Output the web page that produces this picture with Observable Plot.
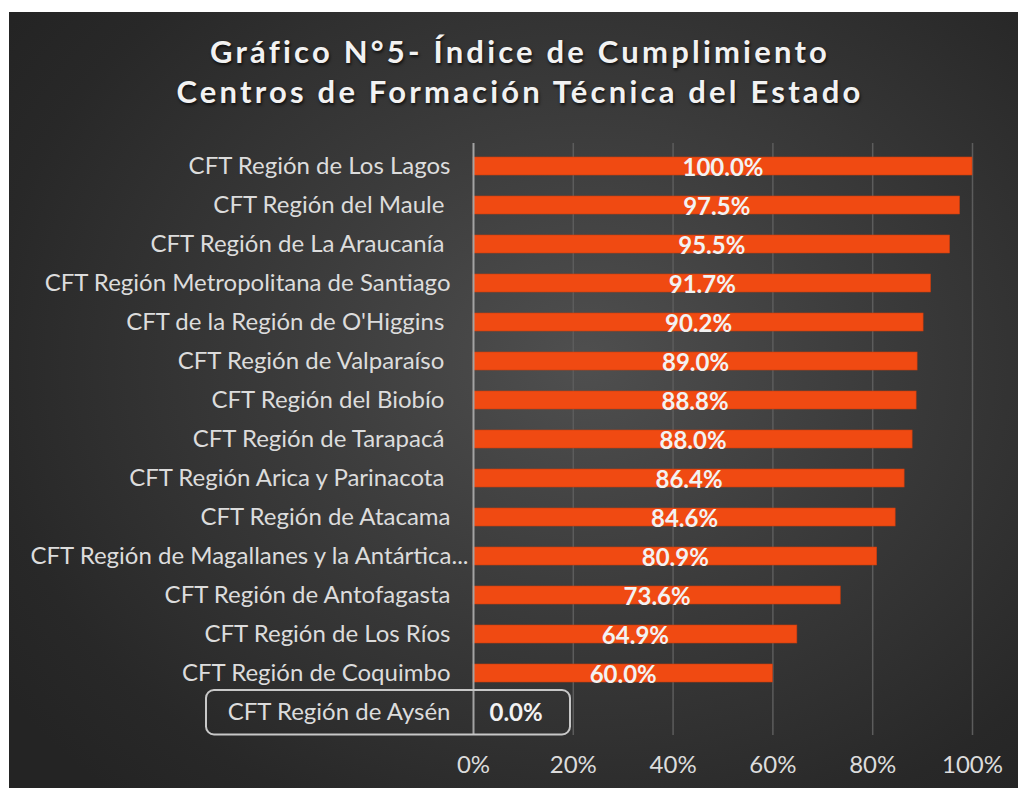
<!DOCTYPE html>
<html>
<head>
<meta charset="utf-8">
<script src="https://cdn.jsdelivr.net/npm/d3@7"></script>
<script src="https://cdn.jsdelivr.net/npm/@observablehq/plot@0.6"></script>
<style>
  html, body { margin: 0; padding: 0; background: #ffffff; width: 1020px; height: 788px; overflow: hidden; }
  #card {
    position: absolute; left: 9px; top: 12px; width: 1009px; height: 776px;
    background: radial-gradient(ellipse 70% 75% at 57% 45%, #4f4f4f 0%, #3c3c3c 40%, #282828 85%, #242424 100%);
  }
  #title {
    position: absolute; left: 0; top: 31px; width: 1040px; text-align: center;
    font-family: Lato, sans-serif; font-weight: bold; font-size: 31px; line-height: 40px;
    letter-spacing: 3.2px; color: #f2f2f2; text-shadow: 1px 2px 3px rgba(0,0,0,0.7);
  }
  #chart { position: absolute; left: 0; top: 130px; }
  #chart svg text { white-space: pre; }
</style>
</head>
<body>
<div id="card"></div>
<div id="title">Gráfico N°5- Índice de Cumplimiento<br>Centros de Formación Técnica del Estado</div>
<div id="chart"></div>
<script>
const categories = [
  "CFT Región de Los Lagos",
  "CFT Región del Maule ",
  "CFT Región de La Araucanía ",
  "CFT Región Metropolitana de Santiago",
  "CFT de la Región de O'Higgins ",
  "CFT Región de Valparaíso ",
  "CFT Región del Biobío ",
  "CFT Región de Tarapacá ",
  "CFT Región Arica y Parinacota ",
  "CFT Región de Atacama",
  "CFT Región de Magallanes y la Antártica...",
  "CFT Región de Antofagasta",
  "CFT Región de Los Ríos",
  "CFT Región de Coquimbo",
  "CFT Región de Aysén"
];
const values = [100.0, 97.5, 95.5, 91.7, 90.2, 89.0, 88.8, 88.0, 86.4, 84.6, 80.9, 73.6, 64.9, 60.0, 0.0];
const xTicks = [0, 20, 40, 60, 80, 100];
const highlighted = "CFT Región de Aysén";
const truncated = "CFT Región de Magallanes y la Antártica...";

const data = categories.map((c, i) => ({c, v: values[i]}));

const chart = Plot.plot({
  width: 1020,
  height: 658,
  marginTop: 13,
  marginBottom: 53,
  marginLeft: 473,
  marginRight: 48,
  style: {background: "transparent", fontFamily: "Lato, sans-serif", fontSize: "24px", color: "#dcdcdc", overflow: "visible"},
  x: {domain: [0, 100]},
  y: {domain: categories, paddingInner: 0.54, paddingOuter: 0.27, label: null},
  marks: [
    Plot.gridX(xTicks.slice(1), {stroke: "#5c5c5c", strokeOpacity: 1, strokeWidth: 1.5}),
    Plot.barX(data, {x: "v", y: "c", fill: "#F04A12", stroke: "#c83c0e", strokeWidth: 0.6,
      style: "filter: drop-shadow(2px 3px 2px rgba(0,0,0,0.55));"}),
    Plot.ruleX([0], {stroke: "#a3a3a3", strokeWidth: 2}),
    Plot.axisX({ticks: xTicks, tickSize: 0, tickPadding: 20, tickFormat: d => d + "%", fontSize: 24, label: null}),
    Plot.axisY({ticks: categories.filter(c => c !== truncated), tickSize: 0, tickPadding: 23, label: null, fontSize: 24}),
    Plot.axisY({ticks: [truncated], tickSize: 0, tickPadding: 5, label: null, fontSize: 24}),
    Plot.text(data.filter(d => d.v > 0), {x: d => d.v / 2, y: "c", text: d => d.v.toFixed(1) + "%",
      fill: "#f2f2f2", fontWeight: "bold", fontSize: 24, dy: 2}),
    Plot.text(data.filter(d => d.v === 0), {x: "v", y: "c", text: d => d.v.toFixed(1) + "%",
      fill: "#f2f2f2", fontWeight: "bold", fontSize: 24, textAnchor: "start", dx: 16, dy: 1})
  ]
});

// highlight box around the Aysén row, positioned from the plot's own scales
const ys = chart.scale("y");
const xs = chart.scale("x");
const yTop = ys.apply(highlighted) - (ys.step - ys.bandwidth) / 2 - 2.5;
const x0 = xs.apply(0);
d3.select(chart).append("rect")
  .attr("x", x0 - 267).attr("y", yTop)
  .attr("width", 364).attr("height", ys.step + 5.5)
  .attr("rx", 8).attr("ry", 8)
  .attr("fill", "none").attr("stroke", "#c8c8c8").attr("stroke-width", 2);

document.getElementById("chart").append(chart);
</script>
</body>
</html>
